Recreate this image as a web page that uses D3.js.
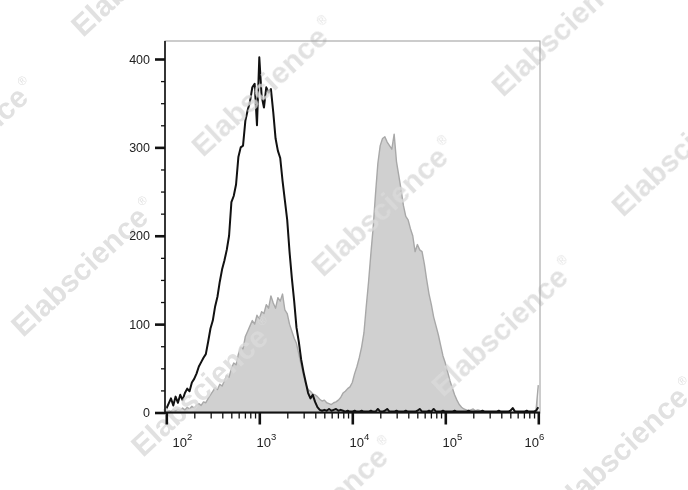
<!DOCTYPE html>
<html><head><meta charset="utf-8">
<script src="https://cdn.jsdelivr.net/npm/d3@7"></script>
<style>body{margin:0;background:#fff} svg{display:block}</style>
</head><body>
<svg id="c" width="688" height="490"></svg>
<script>
// Histogram channels: log10 bins from 10^2 to 10^6
const binStartLog = 2.0;
const binStepLog = 0.025;
// Isotype control (black outline)
const isotypeCounts = [
  4,10,16,8,18,11,20,14,22,27,
  24,34,38,44,52,57,62,66,80,95,
  104,120,131,148,162,172,184,200,238,245,
  258,289,300,302,330,342,352,368,372,325,
  402,358,345,368,362,366,340,310,296,288,
  262,240,218,182,152,126,96,80,60,46,
  34,22,16,20,12,6,3,2,3,2,
  4,2,3,4,2,3,2,1,2,1,
  1,2,1,1,2,1,1,1,2,1,
  1,4,1,1,2,4,1,1,1,2,
  1,1,1,2,1,1,1,1,2,4,
  1,1,1,2,1,4,1,1,1,2,
  1,1,1,1,2,1,1,1,1,1,
  2,1,1,1,1,1,2,1,1,1,
  1,1,1,2,1,1,1,1,2,5,
  1,1,1,1,1,2,1,1,1,2,
  6
];
// Stained sample (gray filled)
const stainedCounts = [
  1,2,1,3,2,4,2,5,3,6,
  4,7,5,8,10,8,12,11,16,20,
  24,28,26,32,30,36,42,40,50,56,
  54,66,74,72,86,92,98,104,100,110,
  106,114,112,122,118,132,124,118,130,126,
  134,116,112,100,92,84,78,66,54,42,
  32,26,24,21,20,18,15,13,14,11,
  10,9,11,12,14,17,22,24,27,29,
  34,44,52,62,74,90,120,148,180,210,
  248,282,302,310,312,306,302,298,315,284,
  268,252,234,222,218,208,200,182,190,184,
  182,168,150,134,122,108,98,88,76,64,
  56,46,36,28,20,14,9,6,4,3,
  2,3,4,2,3,2,1,1,0,1,
  1,0,1,0,0,1,0,1,0,0,
  0,1,0,0,1,0,0,0,1,2,
  31
];
const yMajorTicks = [0,100,200,300,400];
const yMinorStep = 25;
const xDecadeExponents = [2,3,4,5,6];
const watermarkWord = "Elabscience";

const svg = d3.select("#c");
const L = {left:165, right:540, top:41, bottom:413};
const x = d3.scaleLog().domain([1e2,1e6]).range([166.3,538.3]);
const y = d3.scaleLinear().domain([0,400]).range([412.5,59]);

const toPts = arr => arr.map((c,i)=>({v:Math.pow(10, binStartLog + i*binStepLog), c}));
const stained = toPts(stainedCounts);
const isotype = toPts(isotypeCounts);

svg.append("defs").append("clipPath").attr("id","pc")
  .append("rect").attr("x",L.left).attr("y",L.top).attr("width",L.right-L.left).attr("height",L.bottom-L.top);

const plot = svg.append("g").attr("clip-path","url(#pc)");
const area = d3.area().x(d=>x(d.v)).y0(y(0)).y1(d=>y(d.c));
const line = d3.line().x(d=>x(d.v)).y(d=>y(d.c));
plot.append("path").attr("d",area(stained)).attr("fill","#d0d0d0");
plot.append("path").attr("d",line(stained)).attr("fill","none").attr("stroke","#a8a8a8").attr("stroke-width",1.4).attr("stroke-linejoin","round");

// watermark
const wm = svg.append("g").attr("fill","#dadada").attr("opacity",0.8)
  .style("font-family","'Liberation Sans', Arial, sans-serif").style("font-weight","bold");
for (let i=-3;i<=4;i++) for (let j=-3;j<=3;j++){
  const sx = 203 + 120*i - 180*j, sy = 158 + 120*i + 180*j;
  if (sx < -250 || sx > 720 || sy < -50 || sy > 700) continue;
  const t = wm.append("text").attr("transform",`translate(${sx},${sy}) rotate(-43)`).attr("font-size",30);
  t.append("tspan").text(watermarkWord);
  t.append("tspan").attr("font-size",12).attr("font-weight","normal").attr("dx",3).attr("dy",-15).text("\u00AE");
}

plot.append("path").attr("d",line(isotype)).attr("fill","none").attr("stroke","#111").attr("stroke-width",2).attr("stroke-linejoin","round");

// frame
svg.append("rect").attr("x",L.left).attr("y",L.top).attr("width",L.right-L.left).attr("height",L.bottom-L.top)
  .attr("fill","none").attr("stroke","#9a9a9a").attr("stroke-width",1);

// Y axis
const yMinor = d3.range(0, 401, yMinorStep).filter(v=>!yMajorTicks.includes(v));
const yAxisMinor = d3.axisLeft(y).tickValues(yMinor).tickSize(4).tickFormat("");
const yAxisMajor = d3.axisLeft(y).tickValues(yMajorTicks).tickSize(10).tickPadding(5);
const gyMin = svg.append("g").attr("transform",`translate(${L.left},0)`).call(yAxisMinor);
gyMin.select(".domain").remove();
gyMin.selectAll("line").attr("stroke","#111").attr("stroke-width",1.3);
const gy = svg.append("g").attr("transform",`translate(${L.left},0)`).call(yAxisMajor);
gy.select(".domain").remove();
gy.selectAll("line").attr("stroke","#111").attr("stroke-width",2.6);
gy.selectAll("text").attr("fill","#222").style("font-family","'Liberation Sans', Arial, sans-serif").style("font-size","12.5px");
svg.append("line").attr("x1",L.left).attr("x2",L.left).attr("y1",L.top).attr("y2",L.bottom+1).attr("stroke","#111").attr("stroke-width",1.6);

// X axis
const xMajorVals = xDecadeExponents.map(e=>Math.pow(10,e));
const xMinorVals = [];
xDecadeExponents.slice(0,-1).forEach(e=>{ for(let k=2;k<=9;k++) xMinorVals.push(k*Math.pow(10,e)); });
const gxMin = svg.append("g").attr("transform",`translate(0,${y(0)})`).call(d3.axisBottom(x).tickValues(xMinorVals).tickSize(6).tickFormat(""));
gxMin.select(".domain").remove();
gxMin.selectAll("line").attr("stroke","#111").attr("stroke-width",1.3);
const gx = svg.append("g").attr("transform",`translate(0,${y(0)})`).call(d3.axisBottom(x).tickValues(xMajorVals).tickSize(12).tickFormat(""));
gx.select(".domain").remove();
gx.selectAll("line").attr("stroke","#111").attr("stroke-width",2.6);
svg.append("line").attr("x1",L.left).attr("x2",L.right).attr("y1",y(0)).attr("y2",y(0)).attr("stroke","#111").attr("stroke-width",2);

const labelShift = e => e===2 ? 16 : (e===6 ? -4 : 7);
xDecadeExponents.forEach(e=>{
  const t = svg.append("text").attr("x", x(Math.pow(10,e)) + labelShift(e)).attr("y",447)
    .attr("text-anchor","middle").attr("fill","#222")
    .style("font-family","'Liberation Sans', Arial, sans-serif").style("font-size","13px");
  t.append("tspan").text("10");
  t.append("tspan").attr("dy",-7).style("font-size","9.5px").text(String(e));
});
</script>
</body></html>
